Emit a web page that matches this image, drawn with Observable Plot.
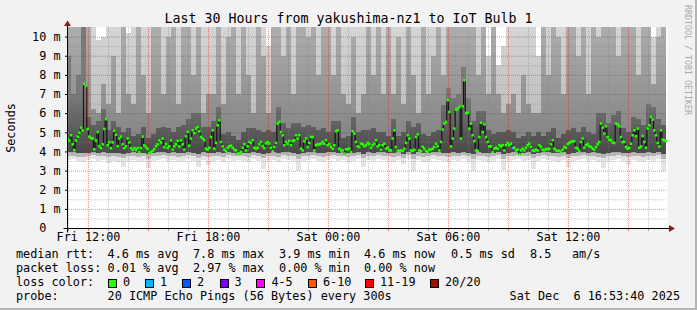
<!DOCTYPE html>
<html>
<head>
<meta charset="utf-8">
<script src="https://cdn.jsdelivr.net/npm/d3@7"></script>
<script src="https://cdn.jsdelivr.net/npm/@observablehq/plot@0.6"></script>
<style>
html,body{margin:0;padding:0;background:#f2f2f2;}
#wrap{position:relative;width:697px;height:310px;background:#f2f2f2;overflow:hidden;font-family:"DejaVu Sans Mono",monospace;color:#000;}
#wrap svg{position:absolute;left:0;top:0;}
.t{position:absolute;white-space:pre;font-size:11.8px;line-height:1;}
.box{position:absolute;width:7px;height:7px;border:1px solid #000;}
</style>
</head>
<body>
<div id="wrap"></div>
<script>
// ---- median RTT (ms), one value per 5-minute step ----
const medianA = [4.7,4.6,4.87,4.4,4.1,4.6,4.8,5.0,5.27,5.13,7.55,7.45,5.2,4.8,4.73,4.7,4.14,4.6,5.04,4.3,4.2,4.4,5.2,5.71,4.35,4.5,4.2,4.5,5.1,4.9,4.3,4.7,4.8,4.4,4.2,4.3,4.7,4.5,4.2,4.1,4.2,4.1,4.2,4.0,4.2,4.8,4.35,4.25,4.15,3.95,4.0,4.05,4.15,4.3,4.4,4.6,4.5,4.7,4.25,4.4];
const medianB = [4.22,4.3,4.6,4.12,4.29,4.4,4.57,4.29,4.61,4.4,4.12,4.82,5.04,4.33,4.7,5.13,4.99,5.22,5.3,5.08,4.78,4.7,4.61,4.17,4.12,4.22,4.78,5.13,4.17,4.47,5.39,5.65,4.52,4.29,4.12,4.05,4.22,4.29,4.33,4.22,4.12,4.08,3.91,3.91,4.0,4.22,4.4,4.08,4.29,4.52,4.47,4.61,4.22,4.17,4.22,4.4,4.52,4.3,4.2,4.45];
const medianC = [4.52,4.43,4.22,4.05,4.26,4.47,5.48,5.57,5.04,4.87,4.35,4.52,4.43,4.57,4.35,4.57,4.61,4.87,4.7,4.87,4.17,4.08,4.56,4.7,4.26,4.47,4.78,4.78,4.08,4.35,4.4,4.4,4.43,4.52,4.43,4.61,4.35,4.4,4.26,4.17,4.35,5.08,5.13,4.17,4.08,4.08,3.91,4.14,4.14,4.17,4.0,5.08,4.96,4.52,4.29,4.26,4.43,4.4,4.3,4.35];
const medianD = [4.47,4.4,4.22,4.35,4.43,4.61,4.29,4.35,4.12,4.35,4.43,4.17,4.22,4.08,4.08,4.7,5.13,4.26,4.08,4.05,4.08,4.05,4.17,4.47,4.87,4.7,4.08,4.05,4.12,4.78,4.92,4.08,4.05,4.26,4.17,4.05,4.0,4.12,4.12,4.17,4.26,4.43,4.29,4.08,4.52,5.17,5.48,5.57,6.7,6.09,4.29,4.7,5.22,6.21,6.26,6.35,4.7,6.39,7.75,6.04];
const medianE = [6.04,5.22,5.48,4.87,4.57,4.08,4.05,4.78,5.52,5.04,5.44,4.78,4.52,4.29,4.29,4.0,4.17,4.22,4.17,4.35,4.29,4.35,4.08,4.35,4.47,4.35,4.43,4.2,4.22,4.08,4.12,3.87,4.08,4.17,4.08,4.22,4.35,4.43,4.26,4.08,4.05,4.12,4.08,4.35,4.26,4.12,4.08,4.15,4.14,4.17,4.4,4.61,4.17,4.08,4.05,4.05,4.0,4.12,4.26,4.22];
const medianF = [4.4,4.47,4.52,4.56,4.56,4.22,4.17,4.05,4.52,4.7,4.22,4.35,4.4,4.29,4.26,4.17,4.12,4.26,4.4,4.52,5.48,5.27,4.96,5.34,4.78,4.64,4.61,4.49,4.47,5.48,5.44,5.34,4.78,4.52,4.52,4.26,4.17,4.22,4.43,4.87,5.13,4.82,5.22,4.22,4.29,4.83,4.52,4.22,5.22,5.39,5.83,5.69,5.13,4.87,4.47,4.29,5.13,4.64,4.61,4.57];

// ---- packet loss (steps with lost pings) ----
const lossSteps = [267];
const lossCounts = [1];

// ---- smoke: ping distribution per 15-minute bin (ms) ----
const smokeLo = [3.55,3.6,3.5,3.45,3.55,3.6,3.5,3.55,3.4,3.5, 3.45,3.2,3.5,3.55,3.45,3.5,3.15,3.5,3.55,3.6, 3.5,3.55,3.45,3.5,3.6,3.5,3.2,3.55,3.3,3.5, 3.55,3.45,3.6,3.5,3.55,3.5,3.45,3.6,3.5,3.1, 3.5,3.55,3.45,3.6,3.55,3.5,3.0,3.5,3.55,3.6, 3.5,3.45,3.55,3.6,3.5,3.55,3.45,3.5,3.6,3.2, 3.55,3.5,3.6,3.55,3.5,3.45,3.55,3.35,3.6,3.0, 3.55,3.45,3.5,3.6,3.55,3.5,3.45,3.55,3.5,3.6, 3.5,3.0,3.55,3.5,3.45,3.5,3.6,3.05,3.5,3.55, 3.6,3.5,3.55,3.1,3.5,3.6,3.55,3.5,3.45,3.55, 3.2,3.5,3.55,3.6,3.5,3.55,3.45,3.15,3.5,3.55, 3.6,3.5,3.3,3.55,3.5,3.45,3.55,3.5,3.6,3.0];
const smokeQ10 = [3.75,3.78,3.72,3.7,3.76,3.8,3.74,3.77,3.7,3.75, 3.72,3.65,3.76,3.78,3.72,3.75,3.62,3.74,3.78,3.8, 3.75,3.78,3.72,3.74,3.8,3.76,3.66,3.78,3.7,3.75, 3.78,3.72,3.8,3.75,3.77,3.74,3.72,3.8,3.75,3.64, 3.74,3.78,3.72,3.8,3.77,3.74,3.6,3.75,3.78,3.8, 3.75,3.72,3.77,3.8,3.74,3.78,3.72,3.75,3.8,3.66, 3.78,3.75,3.8,3.77,3.74,3.72,3.78,3.68,3.8,3.6, 3.77,3.72,3.75,3.8,3.78,3.74,3.72,3.76,3.74,3.8, 3.75,3.6,3.78,3.74,3.72,3.75,3.8,3.62,3.75,3.78, 3.8,3.74,3.78,3.64,3.75,3.8,3.77,3.74,3.72,3.78, 3.66,3.75,3.78,3.8,3.74,3.77,3.72,3.64,3.75,3.78, 3.8,3.74,3.7,3.78,3.75,3.72,3.78,3.74,3.8,3.6];
const smokeQ20 = [3.95,3.96,3.92,3.9,3.94,3.96,3.93,3.95,3.9,3.94, 3.92,3.88,3.94,3.96,3.92,3.94,3.86,3.93,3.95,3.97, 3.94,3.96,3.92,3.93,3.97,3.94,3.88,3.95,3.9,3.94, 3.96,3.92,3.97,3.94,3.95,3.93,3.92,3.97,3.94,3.87, 3.93,3.96,3.92,3.97,3.95,3.93,3.85,3.94,3.96,3.97, 3.94,3.92,3.95,3.97,3.93,3.96,3.92,3.94,3.97,3.88, 3.96,3.94,3.97,3.95,3.93,3.92,3.96,3.89,3.97,3.85, 3.95,3.92,3.94,3.97,3.96,3.93,3.92,3.95,3.93,3.97, 3.94,3.85,3.96,3.93,3.92,3.94,3.97,3.86,3.94,3.96, 3.97,3.93,3.96,3.87,3.94,3.97,3.95,3.93,3.92,3.96, 3.88,3.94,3.96,3.97,3.93,3.95,3.92,3.87,3.94,3.96, 3.97,3.93,3.9,3.96,3.94,3.92,3.96,3.93,3.97,3.85];
const smokeQ75 = [9.0,7.0,8.0,11,5.8,5.4,5.6,6.2,5.1,5.6, 5.3,5.0,5.2,4.8,4.9,5.3,4.7,4.9,5.2,5.3, 5.2,5.0,5.3,5.4,5.7,6.0,6.0,5.3,5.3,5.6, 6.3,4.9,5.0,4.8,4.6,5.0,5.2,5.2,5.1,5.0, 5.1,5.0,6.3,5.5,5.2,5.5,5.5,5.3,5.4,5.3, 5.1,5.2,5.0,5.6,5.6,4.7,4.8,5.8,5.0,5.1, 5.1,5.2,5.0,5.0,4.8,5.7,4.8,5.0,5.6,5.3, 5.5,4.9,4.8,5.0,5.1,6.4,7.3,6.8,7.0,8.4, 6.8,5.6,6.1,6.1,5.1,4.9,5.0,5.0,5.1,5.0, 4.7,4.8,5.0,4.8,5.0,4.8,5.0,5.2,4.7,4.9, 5.1,5.2,5.0,5.3,5.0,4.9,6.0,6.0,5.5,5.9, 6.1,5.2,5.0,5.8,5.7,5.4,6.5,6.3,5.7,5.4];
const smokeQ90 = [12,12,12,12,12,6.2,6.0,7.5,6.5,9, 6,11,7,6.5,11,8,6,11,12,7, 10,11,6.5,11,12,8,11,6,7,7, 11,6.5,10,12,7,11,8,6,11,9, 6,11,12,9,11,7,12,11,10,12, 8,11,12,8,11,7,6.5,10,6,7, 11,8,12,7,11,7,10,6.5,11,8, 6,11,7,9,12,8,11,12,12,12, 12,11,8,12,7,11,7,6,6.5,7, 6,8,6.5,6,6,11,8,12,10,7, 11,12,9,11,7,12,10,12,11,12, 9,12,11,12,8,12,11,7.5,10,11];
const smokeHi = [13,13,13,13,13,13,9.8,10.0,13,13, 13,13,10.2,13,13,13,13,13,13,13, 13,13,13,13,13,13,13,13,13,13, 13,13,13,13,13,13,13,13,13,13, 9.5,13,13,13,13,13,13,13,13,13, 13,13,13,13,13,13,13,13,13,13, 13,13,13,13,13,13,13,13,13,13, 13,13,13,13,13,13,13,13,13,13, 13,13,13,13,9.0,13,8.5,9.5,13,13, 13,13,13,13,9.0,13,13,13,13,13, 13,13,13,13,13,13,13,13,13,13, 13,13,13,13,13,13,13,10.0,13,13];

// ---- legend / text ----
const lossLabels = ["0","1","2","3","4-5","6-10","11-19","20/20"];
const lossColors = ["#26ff00","#00b8ff","#0059ff","#7e00ff","#ff00ff","#ff5500","#ff0000","#a01000"];
const titleText = "Last 30 Hours from yakushima-nz1 to IoT Bulb 1";
const yTitle = "Seconds";
const rttStats = ["4.6 ms avg","7.8 ms max","3.9 ms min","4.6 ms now","0.5 ms sd","8.5","am/s"];
const lossStats = ["0.01 % avg","2.97 % max","0.00 % min","0.00 % now"];
const probeText = "20 ICMP Echo Pings (56 Bytes) every 300s";
const stampText = "Sat Dec  6 16:53:40 2025";
const watermark = "RRDTOOL / TOBI OETIKER";

// ---- build data ----
const STEP = 5 * 60 * 1000, BIN = 15 * 60 * 1000;
const t0 = Date.UTC(2025, 11, 5, 10, 55);
const xDomain = [new Date(Date.UTC(2025, 11, 5, 10, 57)), new Date(Date.UTC(2025, 11, 6, 16, 57))];
const medians = [...medianA, ...medianB, ...medianC, ...medianD, ...medianE, ...medianF];
function lossIndex(c) { return c <= 3 ? c : c <= 5 ? 4 : c <= 10 ? 5 : c < 20 ? 6 : 7; }
const med = medians.map((v, i) => {
  const k = lossSteps.indexOf(i);
  const c = k < 0 ? 0 : lossCounts[k];
  return {t: new Date(t0 + i * STEP), tm: new Date(t0 + i * STEP + STEP / 2), v, color: lossColors[lossIndex(c)]};
});
const smoke = smokeLo.map((lo, i) => ({
  t1: new Date(t0 + i * BIN), t2: new Date(t0 + (i + 1) * BIN),
  lo, q10: smokeQ10[i], q20: smokeQ20[i], q75: smokeQ75[i], q90: smokeQ90[i], hi: smokeHi[i]
}));

const hours = d3.utcHour.range(xDomain[0], xDomain[1]);
const minorHours = hours.filter(d => d.getUTCHours() % 3 !== 0);
const majorHours = hours.filter(d => d.getUTCHours() % 3 === 0);
const labelHours = hours.filter(d => d.getUTCHours() % 6 === 0);
const halfLines = d3.range(0.5, 10, 1);
const unitLines = d3.range(1, 11);
const yTicks = d3.range(0, 11);

const layer = (a, b, fill) => Plot.rect(smoke, {x1: "t1", x2: "t2", y1: a, y2: b, fill, clip: true, shapeRendering: "crispEdges"});

const chart = Plot.plot({
  width: 697, height: 310,
  marginLeft: 67, marginRight: 30, marginTop: 27, marginBottom: 82,
  x: {type: "utc", domain: xDomain, axis: null},
  y: {domain: [0, 10.5], axis: null},
  color: {type: "identity"},
  style: {background: "transparent", fontFamily: "'DejaVu Sans Mono', monospace", fontSize: "11.8px", color: "#000"},
  marks: [
    Plot.frame({fill: "white", stroke: null}),
    layer("lo", "q10", "#e4e4e4"),
    layer("q10", "q20", "#b6b6b6"),
    layer("q20", "q75", "url(#smokeDark)"),
    layer("q75", "q90", "url(#smokeMid)"),
    layer("q90", "hi", "url(#smokeLight)"),
    Plot.ruleX(minorHours, {stroke: "#808080", strokeOpacity: 0.45, strokeDasharray: "1,1"}),
    Plot.ruleY(halfLines, {stroke: "#808080", strokeOpacity: 0.45, strokeDasharray: "1,1"}),
    Plot.ruleX(majorHours, {stroke: "#ff0000", strokeOpacity: 0.45, strokeDasharray: "1,1"}),
    Plot.ruleY(unitLines, {stroke: "#ff0000", strokeOpacity: 0.45, strokeDasharray: "1,1"}),
    Plot.line(med, {x: "t", y: "v", curve: "step-after", stroke: "#141414", strokeWidth: 1.2, clip: true}),
    Plot.dot(med, {x: "tm", y: "v", symbol: "square", r: 1.45, fill: "color", stroke: null, clip: true}),
    Plot.axisY({ticks: yTicks, tickSize: 2, tickPadding: 5, label: null,
      tickFormat: d => d === 0 ? "0\u00a0\u00a0" : d + " m"}),
    Plot.axisX({ticks: minorHours, tickSize: 3, tickFormat: () => "", label: null, stroke: "#a0a0a0"}),
    Plot.axisX({ticks: majorHours, tickSize: 3, tickFormat: () => "", label: null, stroke: "#e07070"}),
    Plot.axisX({ticks: labelHours, tickSize: 0, tickPadding: 4, label: null, tickFormat: d3.utcFormat("%a %H:%M")})
  ]
});

const wrap = document.getElementById("wrap");
wrap.appendChild(chart);

const svg = d3.select(chart);
const yS = chart.scale("y");
// vertical shading of the smoke layers (darker near the median, lighter higher up)
const defs = svg.insert("defs", ":first-child");
function grad(id, v0, c0, v1, c1) {
  const lg = defs.append("linearGradient").attr("id", id).attr("gradientUnits", "userSpaceOnUse")
    .attr("x1", 0).attr("x2", 0).attr("y1", yS.apply(v0)).attr("y2", yS.apply(v1));
  lg.append("stop").attr("offset", 0).attr("stop-color", c0);
  lg.append("stop").attr("offset", 1).attr("stop-color", c1);
}
grad("smokeDark", 4, "#4a4a4a", 7, "#7a7a7a");
grad("smokeMid", 5, "#878787", 10.5, "#adadad");
grad("smokeLight", 5.5, "#bcbcbc", 10.5, "#d5d5d5");

// axis lines and arrow heads
const xr = chart.scale("x").range, yr = yS.range;
const xL = xr[0] + 0.5, xR = xr[1], yB = yr[0] + 0.5, yT = yr[1];
const g = svg.append("g");
g.append("line").attr("x1", xL - 4).attr("x2", xR + 2).attr("y1", yB).attr("y2", yB).attr("stroke", "#000");
g.append("line").attr("x1", xL).attr("x2", xL).attr("y1", yB + 4).attr("y2", yT - 1).attr("stroke", "#000");
g.append("path").attr("d", `M${xR + 2},${yB - 3.5}L${xR + 8},${yB}L${xR + 2},${yB + 3.5}Z`).attr("fill", "#8b1a1a");
g.append("path").attr("d", `M${xL - 3.5},${yT - 1}L${xL},${yT - 6.5}L${xL + 3.5},${yT - 1}Z`).attr("fill", "#8b1a1a");

// text overlays
function addText(str, left, top, extra) {
  const d = document.createElement("div");
  d.className = "t";
  d.textContent = str;
  d.style.left = left + "px";
  d.style.top = top + "px";
  if (extra) Object.assign(d.style, extra);
  wrap.appendChild(d);
  return d;
}
addText(titleText, 0, 11.6, {width: "697px", textAlign: "center", fontSize: "13.3px"});
addText(yTitle, 12, 128, {transform: "translate(-50%,-50%) rotate(-90deg)"});
addText(watermark, 688, 60, {transform: "translate(-50%,-50%) rotate(90deg)", fontSize: "8.3px", color: "#a8a8a8"});

const rowTop = [249, 263, 277, 291];
const colX = [107.6, 193, 279, 364, 451, 530, 572];
addText("median rtt:", 16, rowTop[0]);
rttStats.forEach((s, i) => addText(s, colX[i], rowTop[0]));
addText("packet loss:", 16, rowTop[1]);
lossStats.forEach((s, i) => addText(s, colX[i], rowTop[1]));
addText("loss color:", 16, rowTop[2]);
const boxX = [108, 145, 182, 219.5, 256.4, 308, 365, 430];
lossLabels.forEach((s, i) => {
  const b = document.createElement("div");
  b.className = "box";
  b.style.left = boxX[i] + "px";
  b.style.top = "278.5px";
  b.style.background = lossColors[i];
  wrap.appendChild(b);
  addText(s, boxX[i] + 15, rowTop[2]);
});
addText("probe:", 16, rowTop[3]);
addText(probeText, 107.6, rowTop[3]);
addText(stampText, 0, rowTop[3], {left: "auto", right: "17px"});

// frame border
const bR = document.createElement("div");
Object.assign(bR.style, {position: "absolute", right: "0", top: "0", width: "2px", height: "310px", background: "#b4b4b4"});
wrap.appendChild(bR);
const bB = document.createElement("div");
Object.assign(bB.style, {position: "absolute", left: "0", bottom: "0", width: "697px", height: "2px", background: "#b4b4b4"});
wrap.appendChild(bB);
</script>
</body>
</html>
